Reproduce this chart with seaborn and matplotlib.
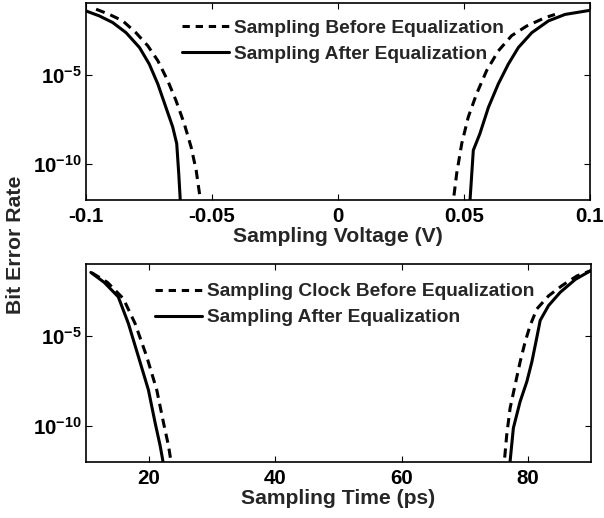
import numpy as np
import pandas as pd
import matplotlib
matplotlib.use("Agg")
import matplotlib.pyplot as plt
from matplotlib.lines import Line2D
from matplotlib.ticker import FixedLocator, NullLocator
import seaborn as sns

# ---- Bit error rate vs sampling voltage (V) ----
v_before_left_x = [-0.0960, -0.0907, -0.0854, -0.0802, -0.0755, -0.0715, -0.0676, -0.0643,
                   -0.0610, -0.0583, -0.0563, -0.0546, -0.0542]
v_before_left_ber = [4.5e-2, 2.3e-2, 1.0e-2, 2.2e-3, 4.1e-4, 6.0e-5, 4.7e-6, 3.6e-7,
                     1.8e-8, 9.1e-10, 4.7e-11, 1.0e-12, 2.5e-13]
v_before_right_x = [0.0456, 0.0458, 0.0471, 0.0491, 0.0517, 0.0550, 0.0590, 0.0636,
                    0.0689, 0.0749, 0.0821, 0.0861]
v_before_right_ber = [2.5e-13, 1.0e-12, 3.0e-11, 1.4e-9, 4.3e-8, 8.5e-7, 1.7e-5, 2.1e-4,
                      1.5e-3, 5.2e-3, 1.5e-2, 2.3e-2]
v_after_left_x = [-0.1000, -0.0947, -0.0894, -0.0841, -0.0788, -0.0749, -0.0715, -0.0683,
                  -0.0656, -0.0640, -0.0632, -0.0626, -0.0624]
v_after_left_ber = [3.6e-2, 1.9e-2, 8.1e-3, 2.2e-3, 3.3e-4, 3.9e-5, 3.0e-6, 1.5e-7,
                    1.2e-8, 1.4e-9, 3.0e-11, 1.0e-12, 2.5e-13]
v_after_right_x = [0.0523, 0.0524, 0.0537, 0.0563, 0.0597, 0.0636, 0.0676, 0.0716,
                   0.0769, 0.0835, 0.0901, 0.1000]
v_after_right_ber = [2.5e-13, 1.0e-12, 6.0e-10, 5.0e-9, 1.5e-7, 3.0e-6, 3.9e-5, 3.3e-4,
                     2.2e-3, 1.0e-2, 2.3e-2, 3.9e-2]

# ---- Bit error rate vs sampling time (ps) ----
t_before_left_x = [10.9, 13.41, 15.91, 17.77, 19.62, 21.21, 22.28, 23.07, 23.44, 23.6]
t_before_left_ber = [3.3e-2, 9.5e-3, 1.2e-3, 5.0e-5, 7.2e-7, 1.0e-8, 1.5e-10, 7.9e-12,
                     1.2e-12, 2.5e-13]
t_before_right_x = [76.2, 76.28, 76.66, 77.19, 77.98, 78.78, 79.57, 80.37, 81.43, 83.28,
                    85.41, 87.8, 89.92]
t_before_right_ber = [2.5e-13, 1.1e-12, 3.3e-11, 9.8e-10, 1.9e-8, 3.7e-7, 4.7e-6, 3.9e-5,
                      3.2e-4, 1.7e-3, 6.3e-3, 2.2e-2, 4.2e-2]
t_after_left_x = [10.77, 12.89, 15.11, 16.71, 18.30, 19.89, 20.95, 21.75, 22.17, 22.3]
t_after_left_ber = [3.4e-2, 9.5e-3, 1.5e-3, 5.0e-5, 7.2e-7, 1.0e-8, 1.5e-10, 7.9e-12,
                    1.2e-12, 2.5e-13]
t_after_right_x = [77.1, 77.19, 77.71, 78.78, 79.84, 80.64, 81.28, 81.96, 83.28, 85.14,
                   87.53, 89.92]
t_after_right_ber = [2.5e-13, 1.1e-12, 7.8e-11, 2.3e-9, 2.9e-8, 3.7e-7, 4.7e-6, 7.4e-5,
                     4.9e-4, 2.7e-3, 1.4e-2, 4.2e-2]

top_labels = ["Sampling Before Equalization", "Sampling After Equalization"]
bottom_labels = ["Sampling Clock Before Equalization", "Sampling After Equalization"]
ytick_values = [1e-10, 1e-5]
voltage_ticks = [-0.1, -0.05, 0, 0.05, 0.1]
voltage_ticklabels = ["-0.1", "-0.05", "0", "0.05", "0.1"]
time_ticks = [20, 40, 60, 80]


def branches_frame(parts):
    rows = []
    for series, branch, xs, ys in parts:
        for x, y in zip(xs, ys):
            rows.append({"x": x, "ber": y, "series": series, "branch": branch})
    return pd.DataFrame(rows)


volt_df = branches_frame([
    ("before", "bl", v_before_left_x, v_before_left_ber),
    ("before", "br", v_before_right_x, v_before_right_ber),
    ("after", "al", v_after_left_x, v_after_left_ber),
    ("after", "ar", v_after_right_x, v_after_right_ber),
])
time_df = branches_frame([
    ("before", "bl", t_before_left_x, t_before_left_ber),
    ("before", "br", t_before_right_x, t_before_right_ber),
    ("after", "al", t_after_left_x, t_after_left_ber),
    ("after", "ar", t_after_right_x, t_after_right_ber),
])

sns.set_style("ticks")
FONT = "Liberation Sans"
plt.rcParams["font.family"] = [FONT, "DejaVu Sans"]
plt.rcParams["font.weight"] = "bold"
plt.rcParams["mathtext.fontset"] = "custom"
plt.rcParams["mathtext.rm"] = f"{FONT}:bold"
plt.rcParams["mathtext.bf"] = f"{FONT}:bold"
plt.rcParams["mathtext.default"] = "bf"

LW = 2.2
DASH = (3.0, 2.0)
LEG_DASH = (2.4, 1.9)
dash_map = {"before": DASH, "after": ""}

fig = plt.figure(figsize=(6.04, 5.18), dpi=100)
ax1 = fig.add_axes([0.1424, 0.6139, 0.8344, 0.3803])
ax2 = fig.add_axes([0.1424, 0.1081, 0.8360, 0.3822])

for ax, df in ((ax1, volt_df), (ax2, time_df)):
    sns.lineplot(data=df, x="x", y="ber", style="series", units="branch",
                 estimator=None, sort=False, dashes=dash_map, color="black",
                 linewidth=LW, legend=False, ax=ax)
    ax.set_yscale("log")
    ax.set_ylim(1e-12, 1e-1)
    ax.yaxis.set_major_locator(FixedLocator(ytick_values))
    ax.yaxis.set_minor_locator(NullLocator())
    ax.set_yticklabels([r"$10^{-10}$", r"$10^{-5}$"])
    ax.tick_params(direction="in", length=4, width=0.8, top=True, right=True,
                   labelsize=14.8, pad=5, colors="black")
    ax.tick_params(axis="y", pad=3)
    for s in ax.spines.values():
        s.set_linewidth(1.2)
        s.set_color("black")
    ax.set_ylabel("")

ax1.set_xlim(-0.1, 0.1)
ax1.set_xticks(voltage_ticks)
ax1.set_xticklabels(voltage_ticklabels)
ax1.set_xlabel("Sampling Voltage (V)", fontsize=15.2, fontweight="bold", labelpad=1)

ax2.set_xlim(10, 90)
ax2.set_xticks(time_ticks)
ax2.set_xticklabels([str(t) for t in time_ticks])
ax2.set_xlabel("Sampling Time (ps)", fontsize=15.2, fontweight="bold", labelpad=1)


def handles():
    return [Line2D([], [], color="black", lw=LW, dashes=LEG_DASH),
            Line2D([], [], color="black", lw=LW)]


leg_kw = dict(frameon=False, loc="upper left", fontsize=13.8, handlelength=2.45,
              handletextpad=0.25, labelspacing=0.45, borderpad=0, borderaxespad=0)
ax1.legend(handles(), top_labels, bbox_to_anchor=(0.19, 0.915), **leg_kw)
ax2.legend(handles(), bottom_labels, bbox_to_anchor=(0.137, 0.905), **leg_kw)

fig.text(16 / 604, 1 - 245 / 518, "Bit Error Rate", rotation=90, ha="center",
         va="center", fontsize=15.3, fontweight="bold")

fig.savefig("out.png", dpi=100, facecolor="white")
